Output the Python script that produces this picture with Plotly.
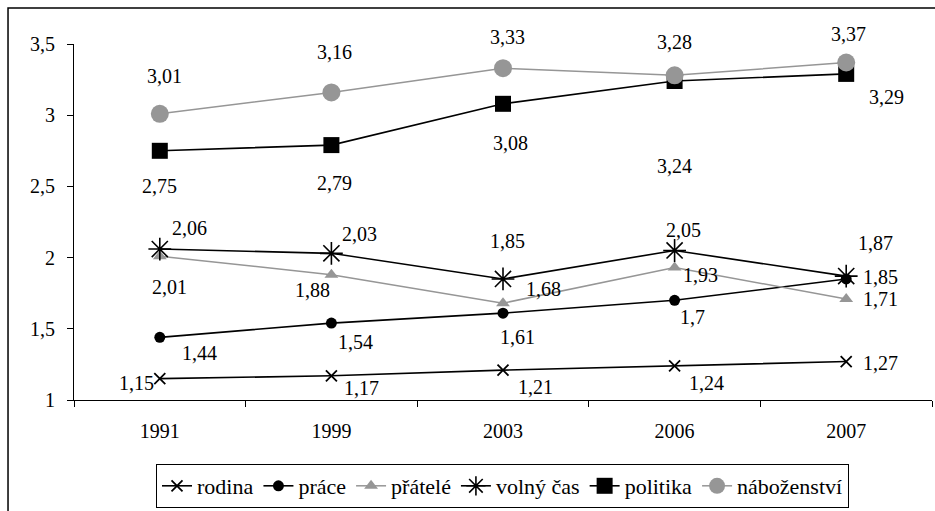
import plotly.graph_objects as go

years = ["1991", "1999", "2003", "2006", "2007"]
rodina = [1.15, 1.17, 1.21, 1.24, 1.27]
prace = [1.44, 1.54, 1.61, 1.70, 1.85]
pratele = [2.01, 1.88, 1.68, 1.93, 1.71]
volny_cas = [2.06, 2.03, 1.85, 2.05, 1.87]
politika = [2.75, 2.79, 3.08, 3.24, 3.29]
nabozenstvi = [3.01, 3.16, 3.33, 3.28, 3.37]
y_ticks = [1, 1.5, 2, 2.5, 3, 3.5]
y_tick_labels = ["1", "1,5", "2", "2,5", "3", "3,5"]

series_names = ["rodina", "práce", "přátelé", "volný čas", "politika", "náboženství"]
series_values = [rodina, prace, pratele, volny_cas, politika, nabozenstvi]

# styles
BLACK = "#000000"
GRAY = "#969696"
styles = [
    dict(color=BLACK, symbol="x-thin", size=11, lw=1.6, mline=1.8),
    dict(color=BLACK, symbol="circle", size=11, lw=1.6, mline=0),
    dict(color=GRAY, symbol="triangle-up", size=12, lw=1.5, mline=0),
    dict(color=BLACK, symbol="asterisk-open", size=19, lw=1.6, mline=1.6),
    dict(color=BLACK, symbol="square", size=16, lw=1.6, mline=0),
    dict(color=GRAY, symbol="circle", size=18, lw=1.5, mline=0),
]
# label offsets in pixels (dx, dy with dy positive = down)
label_offsets = [
    [(-23, 4), (30, 12), (32, 17), (32, 17), (34, 1)],
    [(40, 16), (24, 19), (14, 24), (18, 17), (34, -2)],
    [(10, 31), (-19, 15), (40, -14), (26, 7), (34, 0)],
    [(30, -21), (28, -19), (4, -38), (9, -20), (29, -33)],
    [(0, 35), (3, 38), (7, 39), (0, 85), (40, 23)],
    [(5, -38), (3, -40), (4, -31), (0, -33), (2, -29)],
]

FONT = "Liberation Serif"

fig = go.Figure()
for name, vals, st in zip(series_names, series_values, styles):
    fig.add_trace(go.Scatter(
        x=years, y=vals, name=name, mode="lines+markers",
        line=dict(color=st["color"], width=st["lw"]),
        marker=dict(symbol=st["symbol"], size=st["size"], color=st["color"],
                    line=dict(color=st["color"], width=st["mline"])),
        hoverinfo="skip",
    ))

annotations = []
for vals, offs in zip(series_values, label_offsets):
    for i, (v, (dx, dy)) in enumerate(zip(vals, offs)):
        annotations.append(dict(
            x=i, y=v, xref="x", yref="y", text=f"{v:g}".replace(".", ","),
            showarrow=False, xshift=dx, yshift=-dy,
            font=dict(family=FONT, size=20, color=BLACK),
        ))

fig.update_layout(
    width=935, height=511,
    margin=dict(l=74, r=3, t=44, b=111, autoexpand=False),
    paper_bgcolor="white", plot_bgcolor="white",
    font=dict(family=FONT, size=20, color=BLACK),
    showlegend=True,
    legend=dict(
        orientation="h", xref="container", yref="container",
        x=502.5 / 935, y=3 / 511, xanchor="center", yanchor="bottom",
        bgcolor="white", bordercolor=BLACK, borderwidth=1,
        font=dict(family=FONT, size=22, color=BLACK),
        itemclick=False, itemdoubleclick=False, tracegroupgap=0,
    ),
    annotations=annotations,
    shapes=[dict(type="rect", xref="paper", yref="paper",
                 x0=-0.0769, x1=1.05, y0=-0.5, y1=1.1011, line=dict(color=BLACK, width=1.5),
                 layer="below")],
)
fig.update_xaxes(
    type="category", categoryorder="array", categoryarray=years,
    range=[-0.5, len(years) - 0.5],
    showline=True, linecolor=BLACK, linewidth=1,
    ticks="outside", tickson="boundaries", ticklen=6, tickcolor=BLACK,
    showgrid=False, zeroline=False, tickfont=dict(family=FONT, size=20),
    ticklabelstandoff=13,
)
fig.update_yaxes(
    range=[1, 3.5], tickvals=y_ticks, ticktext=y_tick_labels,
    showline=True, linecolor=BLACK, linewidth=1,
    ticks="outside", ticklen=6, tickcolor=BLACK, showgrid=False, zeroline=False,
    tickfont=dict(family=FONT, size=20), ticklabelstandoff=8,
)

fig.write_html(
    "out.html",
    config={"displayModeBar": False},
    post_script="document.body.style.margin='0';document.documentElement.style.overflow='hidden';",
)
